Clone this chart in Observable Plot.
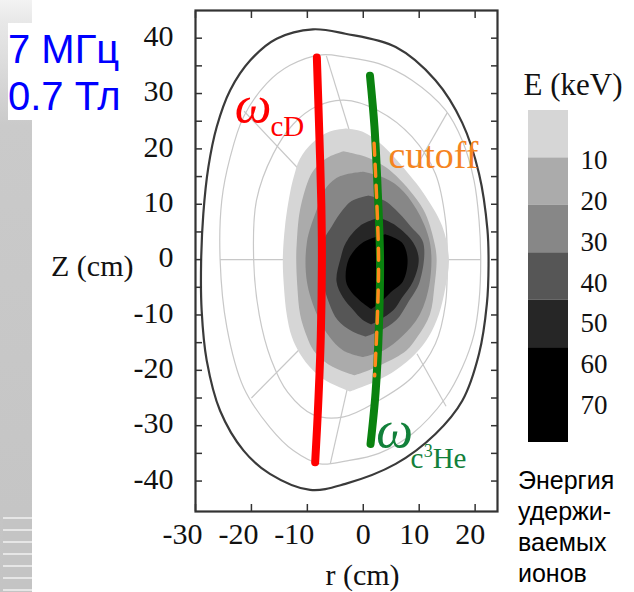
<!DOCTYPE html>
<html><head><meta charset="utf-8">
<script src="https://cdn.jsdelivr.net/npm/d3@7"></script>
<script src="https://cdn.jsdelivr.net/npm/@observablehq/plot@0.6"></script>
<style>
body{margin:0;background:#fff;width:634px;height:592px;overflow:hidden;position:relative;font-family:"Liberation Sans",Arial,sans-serif}
.layer{position:absolute;left:0;top:0}
#strip{position:absolute;left:0;top:0;width:32px;height:592px;background:linear-gradient(#f3f3f3 0px,#e8e8e8 22px,#cacaca 125px,#c4c4c4 100%)}
#stripes{position:absolute;left:3px;top:517px;width:29px;height:75px;background:repeating-linear-gradient(#e6e6e6 0 2px,#c4c4c4 2px 12px)}
#freq{position:absolute;left:8px;top:23px;width:114px;height:97px;background:#fff;color:#0000ff;font-size:40px;line-height:40px}
#freq div{position:absolute;left:0px;white-space:nowrap}
#cap{position:absolute;left:518px;top:465px;font-size:25px;line-height:31px;color:#000}
</style></head><body>
<div id="strip"></div><div id="stripes"></div>
<div id="freq"><div style="top:6px">7 МГц</div><div style="top:53px">0.7 Тл</div></div>
<div id="main" class="layer"></div>
<div id="cbar" class="layer"></div>
<div id="clab" class="layer"></div>
<div id="cap">Энергия<br>удержи-<br>ваемых<br>ионов</div>
<script>
// ---- data (r, Z in cm) ----
const rTicksNeg = [-30, -20, -10];
const rTicksPos = [10, 20];
const rTicksZero = [0];
const rTicks = [-30, -20, -10, 0, 10, 20];
const zTicks = [-40, -30, -20, -10, 0, 10, 20, 30, 40];
const zMinorTicks = [-40, -35, -30, -25, -20, -15, -10, -5, 0, 5, 10, 15, 20, 25, 30, 35, 40];

const boundary = [[-9,41.6],[-3.2,40.8],[5.8,38.4],[12.9,32.4],[17.7,24.7],[20.7,15.5],[22.2,5.4],[22.4,-1],[22.1,-8],[20.7,-17],[17.7,-25.5],[12.9,-31.5],[5.8,-36.9],[-3.2,-40.5],[-9.5,-41.6],[-16.7,-38.7],[-21.4,-34.5],[-25.6,-27.3],[-28,-18.2],[-28.9,-9.2],[-29,-0.7],[-28.6,8.3],[-27.7,16.7],[-26.2,24],[-23.8,30.6],[-20.2,36],[-15.5,39.9]];
const surface1 = [[-7.5,37],[-3.2,36.6],[2.8,35.4],[8.7,32.4],[14.7,27],[17.7,21.5],[19.8,14.3],[20.7,7.1],[21,0],[20.7,-7.5],[19.8,-13.5],[17.7,-19.5],[14.7,-25],[8.7,-31.5],[2.8,-35],[-3.2,-36.4],[-7.7,-36.9],[-12.5,-34.5],[-16.7,-30.3],[-21.4,-23.1],[-24.4,-12.2],[-25.6,0],[-25.3,10.7],[-23.8,18.5],[-21.4,25.8],[-17.3,31.8],[-13.1,35.1]];
const surface2 = [[-3.5,28.8],[2.7,26.9],[8.7,22.2],[12.9,15.5],[14.7,7.1],[15,0],[14.7,-8],[12.9,-15.2],[8.7,-21.3],[2.7,-25.5],[-3.5,-28.4],[-9,-28],[-13.5,-24],[-16.5,-18],[-18.6,-10],[-19.6,0],[-19.1,10.7],[-16.1,19.1],[-12.5,24.5],[-8.5,27.6]];
// radial grid segments [r1, z1, r2, z2]
const radials = [[-6.6,36.8,-2.3,22.7],[-21.3,26.8,-11.3,16.1],[-25.6,0,21,0],[-20,-25,-11.3,-16.1],[-5.9,-36.9,-2.9,-23.5],[9.6,-17,14.8,-26.5],[9.6,17,15,26.5]];

// energy contour bands [z, r_left, r_right]
const band10 = [[23.6,-3,-3],[23,-6,0],[21,-9,3],[18,-11.3,6],[15,-12.3,8.5],[12,-13,10.8],[6,-13.9,14.2],[0,-14.3,15.4],[-5,-14.1,14.8],[-10,-13.6,13.6],[-14,-12.7,11.8],[-17,-11.3,9.5],[-20,-9,6],[-22,-6.5,2.5],[-23.4,-3.5,-1],[-23.9,-2.3,-2.3]];
const band20 = [[19.5,-3.5,-3.5],[18.5,-6,0.5],[17,-8,3.5],[15,-9.4,6],[9,-11.2,10.8],[3,-11.8,12.8],[0,-11.9,13.2],[-5,-11.7,12.8],[-10,-11.2,12],[-14,-10,9.8],[-16.5,-8.8,7.8],[-19,-6.2,3.5],[-20.5,-3,0],[-21,-1.5,-1.5]];
const band30 = [[15.8,0,0],[15,-4,3],[13,-6.5,6.5],[9,-8.2,9.6],[3,-10,12],[-4,-10,12],[-10,-8.2,10.2],[-14,-6,7],[-16.5,-3.5,3.7],[-17.7,0,0]];
const band40 = [[11.5,1,1],[10.5,-2,4],[9,-3.5,5.8],[6,-5.5,8.5],[3,-7.1,10.8],[-4,-7.1,10.2],[-8,-6,8],[-11,-4.5,6],[-13,-2,3],[-14,0.5,0.5]];
const band50 = [[7.5,3,3],[6,-0.5,6],[3,-3,9],[0,-4,10],[-4,-4.7,9],[-7,-3.5,7],[-9.2,-1.7,5.5],[-11,0,3],[-11.8,1.5,1.5]];
const band60 = [[4.5,4,4],[3,0,7],[0,-2.5,8],[-4,-3,7.2],[-6,-2,5],[-7.5,-0.5,3.5],[-9,1.5,1.5]];
const bands = [band10, band20, band30, band40, band50, band60];
const bandFills = ["#d6d6d6", "#ababab", "#878787", "#565656", "#262626", "#000000"];

const resonanceD = [[-8.3,36.5],[-7.9,24],[-7.5,10],[-7.4,0],[-7.6,-14],[-8.1,-27],[-8.6,-36.6]];
const resonanceHe = [[1.2,33.2],[2,24],[2.6,12],[3,0],[2.8,-12],[2.2,-24],[1.3,-33.3]];
const cutoffLine = [[2.2,21],[2.7,10],[3,0],[2.8,-10],[2.3,-21]];

// annotation anchors (r, Z)
const labelOmegaD = [[-23,24.8]], labelSubD = [[-16.6,22.4]], labelCutoff = [[4.5,16.6]];
const labelOmegaHe = [[2.3,-33.9]], labelSubC = [[8.45,-37.7]], labelSup3 = [[10.8,-35.6]], labelSubHe = [[12.4,-37.7]];

// legend
const legendLo = [0, 10, 20, 30, 40, 50];
const legendHi = [10, 20, 30, 40, 50, 70];
const legendTicks = [10, 20, 30, 40, 50, 60, 70];

const serif = "'Liberation Serif','Times New Roman',serif";
const P = d => d[0], Q = d => d[1];
const tickStyle = {tickFormat: () => "", stroke: "#333", strokeWidth: 1.5, label: null};
const labStyle = {tickSize: 0, tickPadding: 11, tickFormat: d => String(d), fontSize: 30, fill: "#111", label: null};

const marks = [
  Plot.line(surface1, {x: P, y: Q, curve: "catmull-rom-closed", stroke: "#c8c8c8", strokeWidth: 1.2}),
  Plot.line(surface2, {x: P, y: Q, curve: "catmull-rom-closed", stroke: "#c8c8c8", strokeWidth: 1.2}),
  Plot.link(radials, {x1: d => d[0], y1: d => d[1], x2: d => d[2], y2: d => d[3], stroke: "#c8c8c8", strokeWidth: 1.2}),
  ...bands.map((b, i) => Plot.areaX(b, {y: d => d[0], x1: d => d[1], x2: d => d[2], fill: bandFills[i], curve: "catmull-rom"})),
  Plot.line(boundary, {x: P, y: Q, curve: "catmull-rom-closed", stroke: "#3a3a3a", strokeWidth: 2.2}),
  Plot.line(resonanceD, {x: P, y: Q, curve: "catmull-rom", stroke: "#ff0000", strokeWidth: 8, strokeLinecap: "round"}),
  Plot.line(resonanceHe, {x: P, y: Q, curve: "catmull-rom", stroke: "#0a820f", strokeWidth: 8, strokeLinecap: "round"}),
  Plot.line(cutoffLine, {x: P, y: Q, curve: "catmull-rom", stroke: "#ff8a1c", strokeWidth: 3.5, strokeDasharray: "12,9", dx: -1.5}),
  Plot.frame({stroke: "#333", strokeWidth: 2.2}),
  Plot.axisY(zMinorTicks, {anchor: "left", tickSize: 7, dx: 7, ...tickStyle}),
  Plot.axisY(zMinorTicks, {anchor: "right", tickSize: 7, dx: -7, ...tickStyle}),
  Plot.axisX(rTicks, {anchor: "bottom", tickSize: 7, dy: -7, ...tickStyle}),
  Plot.axisX(rTicks, {anchor: "top", tickSize: 7, dy: 7, ...tickStyle}),
  Plot.axisY(zTicks, {anchor: "left", tickSize: 0, tickPadding: 22, dy: -2, tickFormat: d => String(d), fontSize: 30, fill: "#111", label: null}),
  Plot.axisX(rTicksNeg, {anchor: "bottom", dx: -13, ...labStyle}),
  Plot.axisX(rTicksZero, {anchor: "bottom", dx: 0, ...labStyle}),
  Plot.axisX(rTicksPos, {anchor: "bottom", dx: -5, ...labStyle}),
  Plot.text(["Z (cm)"], {frameAnchor: "left", dx: -62, dy: 5, textAnchor: "end", lineAnchor: "middle", fontSize: 30, fill: "#111"}),
  Plot.text(["r (cm)"], {frameAnchor: "bottom", dx: 16, dy: 73, textAnchor: "middle", lineAnchor: "bottom", fontSize: 30, fill: "#111"}),
  Plot.text(labelOmegaD, {x: P, y: Q, text: () => "ω", fontSize: 52, fontStyle: "italic", fill: "#ff0000", textAnchor: "start", lineAnchor: "bottom"}),
  Plot.text(labelSubD, {x: P, y: Q, text: () => "cD", fontSize: 29, fill: "#ff0000", textAnchor: "start", lineAnchor: "bottom"}),
  Plot.text(labelCutoff, {x: P, y: Q, text: () => "cutoff", fontSize: 38, fill: "#f5841f", textAnchor: "start", lineAnchor: "bottom"}),
  Plot.text(labelOmegaHe, {x: P, y: Q, text: () => "ω", fontSize: 52, fontStyle: "italic", fill: "#12803a", textAnchor: "start", lineAnchor: "bottom"}),
  Plot.text(labelSubC, {x: P, y: Q, text: () => "c", fontSize: 29, fill: "#12803a", textAnchor: "start", lineAnchor: "bottom"}),
  Plot.text(labelSup3, {x: P, y: Q, text: () => "3", fontSize: 18, fill: "#12803a", textAnchor: "start", lineAnchor: "bottom"}),
  Plot.text(labelSubHe, {x: P, y: Q, text: () => "He", fontSize: 29, fill: "#12803a", textAnchor: "start", lineAnchor: "bottom"})
];

document.getElementById("main").append(Plot.plot({
  width: 634, height: 592,
  marginTop: 10, marginBottom: 81, marginLeft: 195, marginRight: 137,
  x: {domain: [-30, 24]},
  y: {domain: [-45.5, 45]},
  style: {fontFamily: serif, fontSize: "30px", background: "transparent", overflow: "visible"},
  marks
}));

document.getElementById("cbar").append(Plot.plot({
  width: 634, height: 592,
  marginTop: 110, marginBottom: 150, marginLeft: 528, marginRight: 66,
  y: {domain: [0, 70], reverse: true, axis: null},
  color: {type: "identity"},
  style: {background: "transparent", overflow: "visible"},
  marks: [Plot.rect(legendLo.map((lo, i) => ({lo, hi: legendHi[i], f: bandFills[i]})), {y1: "lo", y2: "hi", fill: "f"})]
}));

document.getElementById("clab").append(Plot.plot({
  width: 634, height: 592,
  marginTop: 160, marginBottom: 187, marginLeft: 580, marginRight: 10,
  y: {domain: [10, 70], reverse: true, axis: null},
  style: {fontFamily: serif, background: "transparent", overflow: "visible"},
  marks: [
    Plot.text(legendTicks, {y: d => d, text: d => String(d), frameAnchor: "left", textAnchor: "start", lineAnchor: "middle", fontSize: 27, fill: "#111"}),
    Plot.text(["E (keV)"], {frameAnchor: "top-left", dx: -57, dy: -66, textAnchor: "start", lineAnchor: "bottom", fontSize: 31, fill: "#111"})
  ]
}));
</script>
</body></html>
